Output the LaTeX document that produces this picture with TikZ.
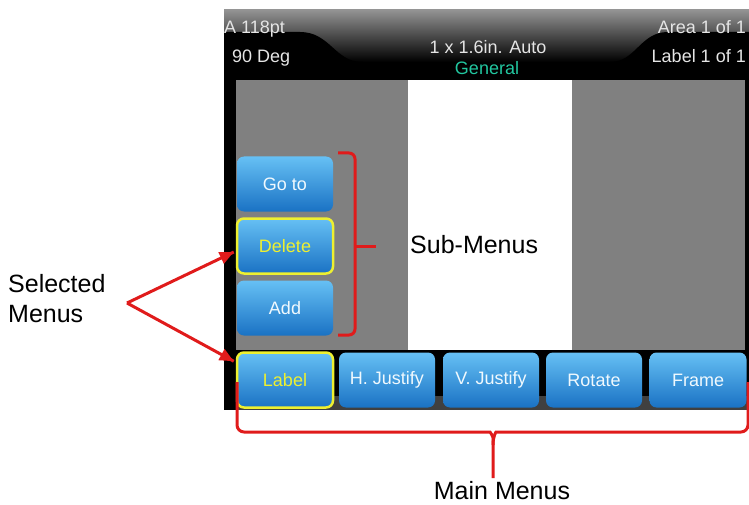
\documentclass[tikz,border=0pt]{standalone}
\usepackage{fontspec}
\setmainfont{Liberation Sans}
\usetikzlibrary{calc,arrows.meta,
                 decorations.markings}
\definecolor{redline}{HTML}{E01B1B}
\definecolor{btntop}{HTML}{66C0F4}
\definecolor{btnbot}{HTML}{1A72C4}
\definecolor{selyellow}{HTML}{EEF030}
\definecolor{screengray}{HTML}{808080}
\definecolor{menuteal}{HTML}{22C7A0}
\tikzset{pointer/.style = {color=redline, line width=3pt, decoration={markings, mark=at position 1 with {\arrow{Triangle[length=14pt,width=12pt]}}}, postaction={decorate}}}
\tikzset{btn/.style = {rectangle, rounded corners=7pt, top color=btntop, bottom color=btnbot, minimum width=96pt, minimum height=55pt, inner sep=0pt, text=white!90!btntop, font=\fontsize{18}{20}\selectfont},
         selbtn/.style = {btn, draw=selyellow, line width=2.5pt, text=selyellow},
         hdr/.style = {anchor=base west, inner sep=0pt, text=white!90!black, font=\fontsize{18}{20}\selectfont},
         callout/.style = {inner sep=0pt, font=\fontsize{25}{30}\selectfont},
         bracket/.style = {draw=redline, line width=3pt, rounded corners=7pt}}

\begin{document}
\begin{tikzpicture}[x=1pt,y=-1pt]
\useasboundingbox (0,0) rectangle (749,505);
\fill [black] (224,10) rectangle (749,410);
\shade [top color=gray!85, bottom color=black] (224,10) rectangle (749,62);
\fill [black] (224,32) -- (300,32) .. controls (330,32) and (335,62) .. (362,62) -- (362,80) -- (224,80) -- cycle;
\fill [black] (749,32) -- (668,32) .. controls (640,32) and (636,62) .. (610,62) -- (610,80) -- (749,80) -- cycle;
\fill [screengray] (236,80) rectangle (745,350);
\fill [white] (408,80) rectangle (572,350);
\fill [black!75] (236,396) rectangle (749,410);
\node [hdr] (hdrsize) at (224,34) {A 118pt};
\node [hdr] (hdrangle) at (232,63) {90 Deg};
\node [hdr, anchor=base] (hdrlabel) at (488,54) {1 x 1.6in. Auto};
\node [hdr, anchor=base, text=menuteal] (hdrtype) at (487,75) {General};
\node [hdr, anchor=base east] (hdrarea) at (746,34) {Area 1 of 1};
\node [hdr, anchor=base east] (hdrcount) at (746,63) {Label 1 of 1};
\node [btn] (goto) at (285,184) {Go to};
\node [selbtn] (del) at (285,246) {Delete};
\node [btn] (add) at (285,308) {Add};
\node [selbtn] (lbl) at (285,380) {Label};
\node [btn] (hjust) at (387,380) {H. Justify};
\node [btn] (vjust) at (491,380) {V. Justify};
\node [btn] (rot) at (594,380) {Rotate};
\node [btn, minimum width=97pt] (frm) at (698,380) {Frame};
\node [callout, anchor=base west] (sublbl) at (410,253) {Sub-Menus};
\node [callout, anchor=north west, align=left] (selmenus) at (8,274) {Selected\\Menus};
\node [callout, anchor=base] (mainlbl) at (502,499) {Main Menus};
\draw [bracket, rounded corners=6pt] (338,153) -- (355,153) -- (355,335) -- (338,335);
\draw [bracket] (355,246) -- (376,246);
\draw [bracket] (237,382) |- (483,432) .. controls (490,432) and (493,436) .. (493,445) -- (493,478);
\draw [bracket] (748,382) |- (503,432) .. controls (496,432) and (493,436) .. (493,445);
\coordinate (fork) at (127,303);
\draw [pointer] (fork) -- ($(del.west)+(-2,6)$);
\draw [pointer] (fork) -- ($(lbl.north west)+(-2,10)$);
\end{tikzpicture}
\end{document}
